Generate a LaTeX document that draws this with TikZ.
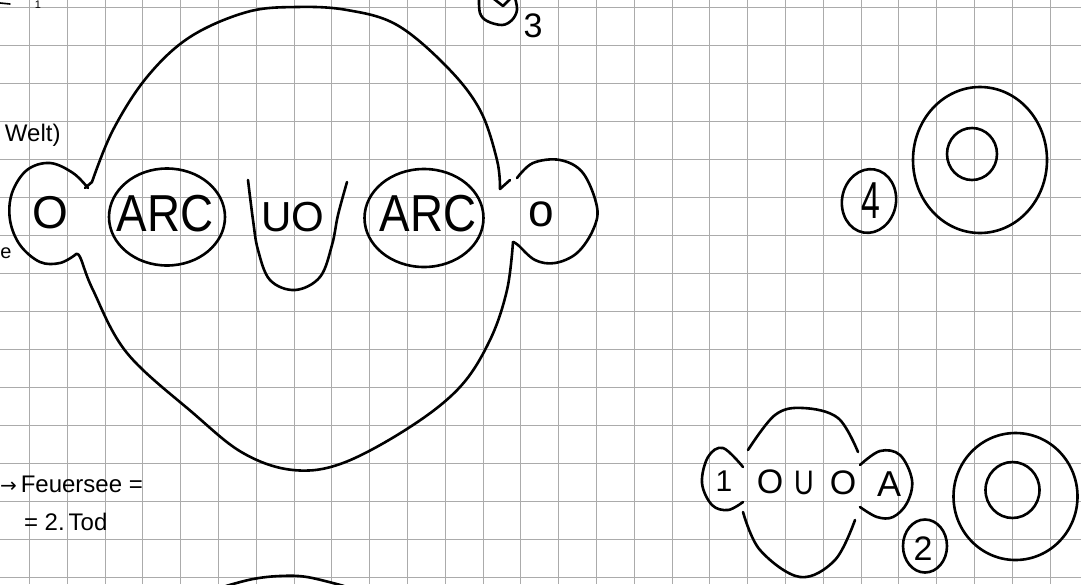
\documentclass[tikz,border=0pt]{standalone}
\usepackage{fontspec}
\usepackage{graphicx}
\setmainfont{Liberation Sans}
\newfontfamily\symfont{DejaVu Sans}
\usetikzlibrary{shapes.geometric}
\newcommand{\fsz}[1]{\fontsize{#1}{#1}\selectfont}
\begin{document}
\begin{tikzpicture}[x=1pt,y=-1pt,
  ink/.style={line width=2.6pt, black, line cap=round, line join=round},
  ring/.style={draw, ellipse, line width=2.6pt, inner sep=0pt, outer sep=0pt},
  gridline/.style={black!33, line width=1pt},
  hand/.style={inner sep=0pt, outer sep=0pt, text=black}]

\useasboundingbox (0,0) rectangle (1081,584);
\fill[white] (0,0) rectangle (1081,584);
\clip (0,0) rectangle (1081,584);
\foreach \i in {0,...,28} { \draw[gridline] ({29.4+37.8*\i},0) -- ({29.4+37.8*\i},584); }
\foreach \j in {0,...,15} { \draw[gridline] (0,{7.5+38*\j}) -- (1081,{7.5+38*\j}); }

% --- partial marks at the top-left edge
\draw[ink, line width=1.6pt] (0,3) -- (10,4);
\node[hand, font=\fsz{11}, anchor=north] (cutone) at (38,0.5) {1};
\node[hand, font=\fsz{24}, anchor=base west] (welt) at (5,141) {Welt)};
\node[hand, font=\fsz{20}, anchor=base west] (ecut) at (0.5,258) {e};

% --- top middle: cut circled 3
\draw[ink] plot[smooth, tension=0.6] coordinates {(479,-2) (480,13) (487,21) (502,25) (512,20) (517,10) (515,-2)};
\draw[ink] (494,-1) -- (503,6) -- (510,-1);
\node[hand, font=\fsz{34}] (three) at (533,26) {3};

% --- main chain
\coordinate (ltop) at (92,182);
\coordinate (lbot) at (75,255);
\coordinate (rtop) at (500,189);
\coordinate (rbot) at (513,242);

% left open loop with O
\draw[ink] plot[smooth, tension=0.6] coordinates {(88,188) (73,173) (50,163) (27,170) (12,193) (10,220) (20,245) (40,262) (60,263) (75,255)};
\node[hand, font=\fsz{46}] (oleft) at (50,213) {O};

% ARC ellipses
\node[ring, minimum width=116pt, minimum height=97pt] (arcA) at (167,217) {};
\node[hand, font=\fsz{52}] (arcAtxt) at (165,214) {\scalebox{0.88}[1]{ARC}};
\node[ring, minimum width=119pt, minimum height=98pt] (arcB) at (424,218) {};
\node[hand, font=\fsz{52}] (arcBtxt) at (428,214) {\scalebox{0.88}[1]{ARC}};

% U shape with UO
\draw[ink] plot[smooth, tension=0.6] coordinates {(248,180) (253,220) (258,250) (270,280) (295,290) (320,277) (332,245) (338,215) (347,182)};
\node[hand, font=\fsz{42}] (uo) at (293,217) {UO};

% right open loop with o
\draw[ink] (rtop) -- (510,180);
\draw[ink] plot[smooth, tension=0.6] coordinates {(517,178) (533,163) (560,160) (583,173) (597,207) (593,230) (577,253) (555,263) (535,260) (518,245) (513,242)};
\node[hand, font=\fsz{46}] (oright) at (541,214) {o};

% big top and bottom arcs
\draw[ink] (85,188) -- (ltop);
\draw[ink] plot[smooth, tension=0.6] coordinates {(ltop) (113,130) (147,77) (190,37) (247,12) (297,7) (347,10) (397,25) (447,67) (480,110) (497,160) (rtop)};
\draw[ink] plot[smooth, tension=0.6] coordinates {(lbot) (80,257) (93,290) (127,353) (193,413) (243,453) (293,470) (343,463) (410,427) (460,387) (490,340) (507,290) (rbot)};

% --- right: circled 4 and double circle
\node[ring, minimum width=54pt, minimum height=64pt, rotate=-10] (four) at (869,201) {};
\node[hand, font=\fsz{52}] (fourtxt) at (871,201) {\scalebox{0.65}[1]{4}};
\node[ring, minimum width=134pt, minimum height=146pt] (bigA) at (980,160) {};
\node[ring, minimum width=50pt, minimum height=52pt] (smallA) at (972,154) {};

% --- bottom left text
\node[hand, font=\fsz{24}, anchor=base west] (feuer) at (0,492) {{\symfont\fsz{20}→}\,Feuersee =};
\node[hand, font=\fsz{24}, anchor=base west] (tod) at (24,530) {= 2.\,Tod};

% --- bottom right chain
\draw[ink] plot[smooth, tension=0.6] coordinates {(743,467) (723,448) (708,457) (702,483) (712,505) (728,510) (743,502)};
\node[hand, font=\fsz{30}] (one) at (724,481) {1};
\draw[ink] plot[smooth, tension=0.6] coordinates {(748,450) (775,415) (803,408) (838,418) (858,452)};
\draw[ink] plot[smooth, tension=0.6] coordinates {(743,512) (760,550) (800,577) (835,560) (855,520)};
\node[hand, font=\fsz{34}] (oa) at (770,482) {O};
\node[hand, font=\fsz{34}] (ub) at (804,483) {\scalebox{0.8}[1]{U}};
\node[hand, font=\fsz{34}] (oc) at (843,483) {O};
\draw[ink] plot[smooth, tension=0.6] coordinates {(860,465) (880,451) (900,455) (912,480) (907,503) (893,517) (877,517) (860,507)};
\node[hand, font=\fsz{36}] (atxt) at (889,484) {A};
\node[ring, minimum width=44pt, minimum height=53pt] (two) at (925,546) {};
\node[hand, font=\fsz{34}] (twotxt) at (923,549) {2};
\node[ring, minimum width=124pt, minimum height=127pt] (bigB) at (1015.5,496.5) {};
\node[ring, minimum width=54pt, minimum height=56pt] (smallB) at (1012.5,490) {};

% --- bottom middle cut arc
\draw[ink] plot[smooth, tension=0.6] coordinates {(226,586) (253,579) (280,576) (307,577) (344,586)};
\end{tikzpicture}
\end{document}
